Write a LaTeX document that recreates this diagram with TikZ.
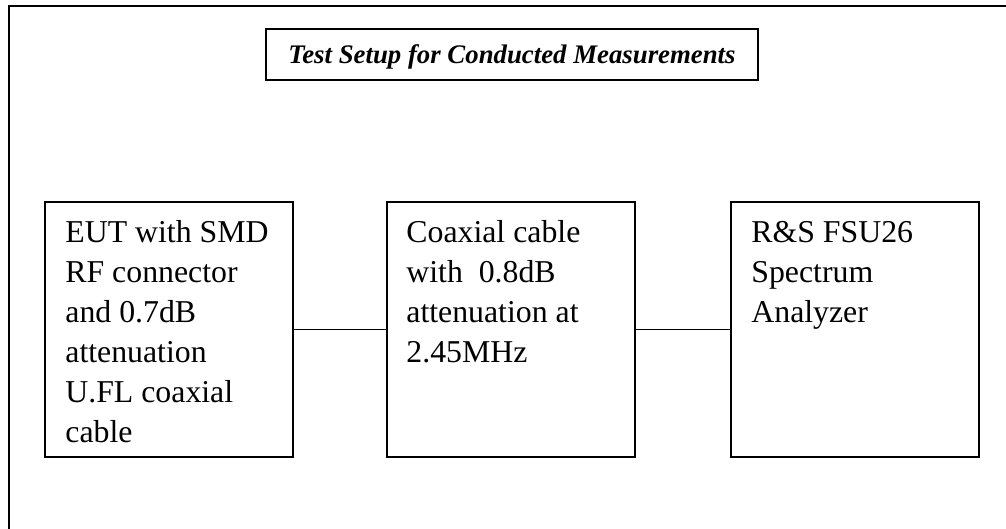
\documentclass[tikz,border=0pt]{standalone}
\usepackage{fontspec}
\setmainfont{Liberation Serif}
\begin{document}
\begin{tikzpicture}[x=1pt,y=-1pt,
  framestyle/.style={line width=1.3pt},
  devbox/.style={draw, line width=1.6pt, minimum width=248pt, minimum height=255pt, inner sep=0pt},
  devtext/.style={anchor=north west, inner sep=0pt, align=left, font=\fontsize{31.8pt}{40pt}\selectfont},
  titlebox/.style={draw, line width=1.4pt, minimum width=492pt, minimum height=51pt, inner sep=0pt, text height=18pt, text depth=0pt, font=\fontsize{26.8pt}{30pt}\selectfont\bfseries\itshape},
  link/.style={line width=1.3pt}]
\useasboundingbox (0,0) rectangle (1006,529);
\fill[white] (0,0) rectangle (1006,529);
% outer frame (continues beyond the picture on right and bottom)
\coordinate (fbl) at (9,540);
\coordinate (ftl) at (9,6);
\coordinate (ftr) at (1020,6);
\draw[framestyle] (fbl) -- (ftl) -- (ftr);
% title
\node[titlebox] (title) at (512,54.5) {Test Setup for Conducted Measurements};
% boxes
\node[devbox] (b1) at (169,329.5) {};
\node[devbox] (b2) at (511,329.5) {};
\node[devbox] (b3) at (855,329.5) {};
\node[devtext] (t1) at ([xshift=21pt,yshift=-19.5pt]b1.north west) {EUT with SMD\\RF connector\\and 0.7dB\\attenuation\\U.FL coaxial\\cable};
\node[devtext] (t2) at ([xshift=20pt,yshift=-19pt]b2.north west) {Coaxial cable\\with\ \ 0.8dB\\attenuation at\\2.45MHz};
\node[devtext] (t3) at ([xshift=21pt,yshift=-19.5pt]b3.north west) {R\&S FSU26\\Spectrum\\Analyzer};
% connectors
\draw[link] (b1.east) -- (b2.west);
\draw[link] (b2.east) -- (b3.west);
\end{tikzpicture}
\end{document}
